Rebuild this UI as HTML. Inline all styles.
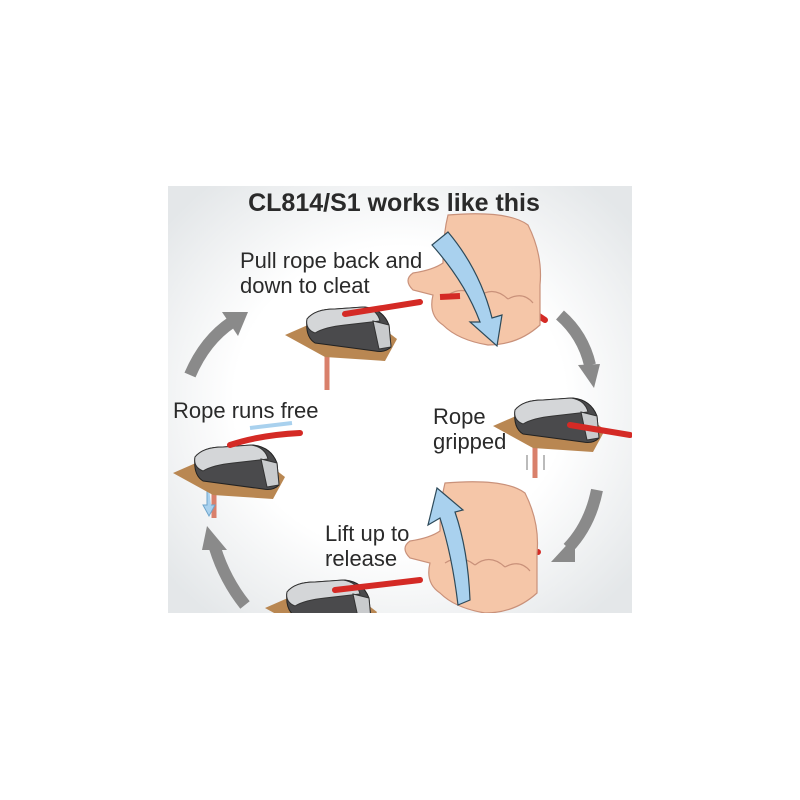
<!DOCTYPE html>
<html><head><meta charset="utf-8"><style>
html,body{margin:0;padding:0;background:#fff;}
svg{display:block}
text{font-family:"Liberation Sans",Arial,sans-serif;fill:#2a2a2a}
</style></head><body>
<svg width="800" height="800" viewBox="0 0 800 800" xmlns="http://www.w3.org/2000/svg">
<defs>
<radialGradient id="bg" cx="50%" cy="50%" r="65%">
<stop offset="0.55" stop-color="#ffffff"/><stop offset="1" stop-color="#e4e7e9"/>
</radialGradient>
<clipPath id="panel"><rect x="168" y="186" width="464" height="427"/></clipPath>
<g id="cleat">
<polygon points="0,28 32,14 78,6 112,32 100,54 40,50" fill="#b98752"/>
<path d="M22,12 Q30,2 50,2 L80,0 Q98,2 104,18 L106,40 Q100,46 90,44 L30,36 Q20,30 22,12Z" fill="#4a4a4c" stroke="#222" stroke-width="1"/>
<path d="M22,12 Q30,2 50,2 L78,0 Q92,2 95,14 L60,18 Q40,20 30,26 Q20,22 22,12Z" fill="#d4d6d8" stroke="#333" stroke-width="1"/>
<path d="M88,14 L104,18 L106,40 L94,42 Z" fill="#c9cbcd" stroke="#333" stroke-width="1"/>
</g>
<g id="hand">
<path d="M40,0 Q100,-5 120,10 Q135,40 132,70 L132,110 Q110,130 80,130 Q50,125 35,110 Q20,100 25,80 L5,75 Q-5,65 5,58 Q25,55 35,48 Q35,20 40,0Z" fill="#f5c6a8" stroke="#c9917a" stroke-width="1.2"/>
<path d="M40,80 Q55,70 70,82 M70,82 Q85,70 100,84 M100,84 Q115,76 125,88" fill="none" stroke="#c9917a" stroke-width="1.2"/>
</g>
</defs>
<rect x="168" y="186" width="464" height="427" fill="url(#bg)"/>
<text x="394" y="211" font-size="25" font-weight="bold" text-anchor="middle">CL814/S1 works like this</text>
<g clip-path="url(#panel)">
<g fill="none" stroke="#8a8a8a" stroke-width="12">
<path d="M190,375 Q205,340 232,322"/>
<path d="M560,315 Q583,335 590,365"/>
<path d="M597,490 Q590,525 568,548"/>
<path d="M245,605 Q225,580 215,548"/>
</g>
<g fill="#8a8a8a">
<polygon points="222,312 248,312 238,336"/>
<polygon points="578,365 600,364 594,388"/>
<polygon points="575,536 575,562 551,562"/>
<polygon points="202,550 227,550 207,526"/>
</g>
<g stroke="#d9806b" stroke-width="5">
<line x1="327" y1="345" x2="327" y2="390"/>
<line x1="535" y1="435" x2="535" y2="478"/>
<line x1="214" y1="468" x2="214" y2="518"/>
</g>
<g stroke="#777" stroke-width="1"><line x1="527" y1="455" x2="527" y2="470"/><line x1="544" y1="455" x2="544" y2="470"/></g>
<path d="M207,470 L207,505 L203,505 L209,516 L215,505 L211,505" fill="#a9d1ee" stroke="#6fa5cc"/>
<path d="M250,428 L292,423" stroke="#a9d1ee" stroke-width="4"/>
<use href="#cleat" x="285" y="307"/>
<use href="#cleat" x="493" y="398"/>
<use href="#cleat" x="173" y="445"/>
<use href="#cleat" x="265" y="580"/>
<g stroke="#d42a25" stroke-width="6" fill="none" stroke-linecap="round">
<path d="M345,314 L420,302"/>
<path d="M570,425 L630,435"/>
<path d="M230,445 Q260,435 300,433"/>
<path d="M335,590 L420,580"/>
<path d="M530,310 L545,320"/>
<path d="M518,550 L538,552"/>
</g>
<use href="#hand" x="408" y="215"/>
<use href="#hand" x="405" y="483"/>
<g stroke="#d42a25" stroke-width="6"><line x1="440" y1="297" x2="460" y2="296"/></g>
<path d="M432,245 L448,232 Q480,270 492,318 L502,315 L497,346 L470,322 L480,322 Q465,282 432,245Z" fill="#a9d1ee" stroke="#2d4a5a" stroke-width="1.2"/>
<path d="M458,605 L470,600 Q468,550 455,512 L463,510 L437,488 L428,525 L440,518 Q452,555 458,605Z" fill="#a9d1ee" stroke="#2d4a5a" stroke-width="1.2"/>
</g>
<text x="240" y="268" font-size="22">Pull rope back and</text>
<text x="240" y="293" font-size="22">down to cleat</text>
<text x="173" y="418" font-size="22">Rope runs free</text>
<text x="433" y="424" font-size="22">Rope</text>
<text x="433" y="449" font-size="22">gripped</text>
<text x="325" y="541" font-size="22">Lift up to</text>
<text x="325" y="566" font-size="22">release</text>
</svg>
</body></html>
